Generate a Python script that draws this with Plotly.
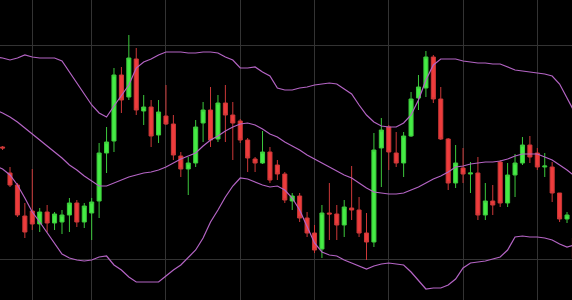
import plotly.graph_objects as go

# Candle data (index, open, high, low, close)
bars = list(range(78))
opens = [1.2153, 1.2127, 1.2115, 1.2084, 1.2089, 1.2076, 1.2088, 1.2077, 1.2078, 1.2085,
         1.2097, 1.2078, 1.2087, 1.2099, 1.2147, 1.2159, 1.2225, 1.2203, 1.2241, 1.2189,
         1.2193, 1.2165, 1.2184, 1.2176, 1.2144, 1.2131, 1.2137, 1.2177, 1.2190, 1.2161,
         1.2197, 1.2185, 1.2179, 1.2160, 1.2141, 1.2137, 1.2148, 1.2135, 1.2126, 1.2099,
         1.2104, 1.2082, 1.2067, 1.2051, 1.2087, 1.2086, 1.2075, 1.2092, 1.2090, 1.2067,
         1.2058, 1.2152, 1.2173, 1.2147, 1.2137, 1.2164, 1.2202, 1.2212, 1.2243, 1.2201,
         1.2161, 1.2117, 1.2132, 1.2126, 1.2127, 1.2085, 1.2099, 1.2138, 1.2097, 1.2125,
         1.2137, 1.2155, 1.2147, 1.2133, 1.2133, 1.2107, 1.2081, 1.2062]
highs = [1.2154, 1.2133, 1.2117, 1.2097, 1.2131, 1.2092, 1.2095, 1.2088, 1.2090, 1.2102,
         1.2100, 1.2097, 1.2102, 1.2157, 1.2173, 1.2232, 1.2233, 1.2265, 1.2252, 1.2205,
         1.2200, 1.2200, 1.2215, 1.2185, 1.2148, 1.2143, 1.2180, 1.2198, 1.2213, 1.2205,
         1.2215, 1.2198, 1.2181, 1.2162, 1.2143, 1.2169, 1.2153, 1.2140, 1.2128, 1.2107,
         1.2107, 1.2088, 1.2075, 1.2095, 1.2117, 1.2095, 1.2100, 1.2134, 1.2103, 1.2087,
         1.2167, 1.2182, 1.2175, 1.2168, 1.2168, 1.2208, 1.2225, 1.2249, 1.2245, 1.2213,
         1.2162, 1.2155, 1.2152, 1.2138, 1.2143, 1.2117, 1.2115, 1.2140, 1.2137, 1.2146,
         1.2163, 1.2164, 1.2152, 1.2147, 1.2138, 1.2107, 1.2088, 1.2065]
lows = [1.2150, 1.2113, 1.2083, 1.2062, 1.2070, 1.2068, 1.2068, 1.2070, 1.2066, 1.2068,
        1.2073, 1.2072, 1.2060, 1.2082, 1.2127, 1.2148, 1.2187, 1.2200, 1.2185, 1.2175,
        1.2153, 1.2157, 1.2175, 1.2140, 1.2123, 1.2105, 1.2133, 1.2158, 1.2153, 1.2158,
        1.2158, 1.2140, 1.2157, 1.2128, 1.2128, 1.2136, 1.2117, 1.2120, 1.2097, 1.2090,
        1.2078, 1.2063, 1.2047, 1.2042, 1.2060, 1.2060, 1.2063, 1.2080, 1.2063, 1.2040,
        1.2053, 1.2113, 1.2130, 1.2133, 1.2123, 1.2163, 1.2190, 1.2203, 1.2197, 1.2160,
        1.2110, 1.2112, 1.2117, 1.2107, 1.2080, 1.2080, 1.2085, 1.2093, 1.2093, 1.2103,
        1.2135, 1.2137, 1.2130, 1.2123, 1.2098, 1.2078, 1.2077, 1.2040]
closes = [1.2152, 1.2115, 1.2085, 1.2068, 1.2076, 1.2088, 1.2077, 1.2086, 1.2085, 1.2097,
          1.2078, 1.2094, 1.2098, 1.2147, 1.2158, 1.2225, 1.2200, 1.2242, 1.2190, 1.2193,
          1.2164, 1.2188, 1.2176, 1.2145, 1.2131, 1.2137, 1.2173, 1.2190, 1.2160, 1.2197,
          1.2185, 1.2177, 1.2160, 1.2142, 1.2137, 1.2148, 1.2120, 1.2126, 1.2100, 1.2104,
          1.2082, 1.2067, 1.2050, 1.2087, 1.2086, 1.2075, 1.2093, 1.2090, 1.2067, 1.2058,
          1.2150, 1.2170, 1.2148, 1.2137, 1.2164, 1.2201, 1.2213, 1.2243, 1.2201, 1.2161,
          1.2117, 1.2137, 1.2126, 1.2127, 1.2085, 1.2099, 1.2095, 1.2097, 1.2125, 1.2137,
          1.2155, 1.2143, 1.2133, 1.2134, 1.2107, 1.2081, 1.2085, 1.2042]

# Bollinger band values (index -1 .. 77)
band_x = list(range(-1, 78))
upper_band = [1.2243, 1.2242, 1.2240, 1.2242, 1.2245, 1.2243, 1.2242, 1.2242, 1.2242, 1.2239,
              1.2228, 1.2217, 1.2205, 1.2195, 1.2187, 1.2183, 1.2194, 1.2204, 1.2215, 1.2232,
              1.2238, 1.2241, 1.2245, 1.2248, 1.2248, 1.2248, 1.2247, 1.2247, 1.2248, 1.2248,
              1.2247, 1.2243, 1.2240, 1.2232, 1.2232, 1.2233, 1.2228, 1.2224, 1.2212, 1.2210,
              1.2210, 1.2212, 1.2213, 1.2215, 1.2216, 1.2217, 1.2216, 1.2211, 1.2206, 1.2195,
              1.2185, 1.2178, 1.2174, 1.2173, 1.2173, 1.2177, 1.2185, 1.2200, 1.2220, 1.2235,
              1.2241, 1.2241, 1.2241, 1.2239, 1.2238, 1.2237, 1.2237, 1.2236, 1.2236, 1.2233,
              1.2230, 1.2229, 1.2228, 1.2227, 1.2226, 1.2224, 1.2216, 1.2202, 1.2188]
middle_band = [1.2190, 1.2187, 1.2183, 1.2178, 1.2172, 1.2166, 1.2160, 1.2154, 1.2148, 1.2142,
               1.2135, 1.2130, 1.2124, 1.2119, 1.2114, 1.2114, 1.2117, 1.2120, 1.2123, 1.2125,
               1.2127, 1.2128, 1.2130, 1.2133, 1.2137, 1.2141, 1.2144, 1.2147, 1.2154, 1.2160,
               1.2164, 1.2169, 1.2173, 1.2176, 1.2177, 1.2175, 1.2171, 1.2166, 1.2163, 1.2158,
               1.2154, 1.2150, 1.2145, 1.2141, 1.2137, 1.2133, 1.2129, 1.2125, 1.2122, 1.2117,
               1.2112, 1.2108, 1.2107, 1.2106, 1.2106, 1.2107, 1.2110, 1.2113, 1.2117, 1.2121,
               1.2124, 1.2128, 1.2133, 1.2134, 1.2136, 1.2137, 1.2138, 1.2138, 1.2139, 1.2141,
               1.2144, 1.2146, 1.2146, 1.2146, 1.2143, 1.2140, 1.2135, 1.2130, 1.2124]
lower_band = [1.2134, 1.2131, 1.2125, 1.2115, 1.2102, 1.2088, 1.2078, 1.2067, 1.2056, 1.2046,
              1.2042, 1.2040, 1.2039, 1.2040, 1.2043, 1.2044, 1.2035, 1.2030, 1.2023, 1.2018,
              1.2018, 1.2018, 1.2018, 1.2024, 1.2030, 1.2035, 1.2042, 1.2050, 1.2062, 1.2078,
              1.2090, 1.2103, 1.2114, 1.2122, 1.2121, 1.2118, 1.2115, 1.2113, 1.2114, 1.2110,
              1.2102, 1.2090, 1.2074, 1.2057, 1.2048, 1.2045, 1.2044, 1.2040, 1.2037, 1.2034,
              1.2031, 1.2034, 1.2036, 1.2037, 1.2036, 1.2035, 1.2028, 1.2020, 1.2011, 1.2012,
              1.2012, 1.2015, 1.2021, 1.2032, 1.2037, 1.2038, 1.2039, 1.2041, 1.2043, 1.2050,
              1.2063, 1.2064, 1.2063, 1.2063, 1.2062, 1.2060, 1.2056, 1.2053, 1.2055]

grid_x = [4, 12, 22, 32, 42, 52, 62, 72]
grid_y = [1.2041, 1.2255]

band_color = "#b464c4"

fig = go.Figure()
for name, vals in [("Upper", upper_band), ("Middle", middle_band), ("Lower", lower_band)]:
    fig.add_trace(go.Scatter(x=band_x, y=vals, mode="lines", name=name,
                             line=dict(color=band_color, width=1.2), hoverinfo="skip"))

fig.add_trace(go.Candlestick(
    x=bars, open=opens, high=highs, low=lows, close=closes,
    increasing=dict(line=dict(color="#3cc83c", width=1), fillcolor="#45ec45"),
    decreasing=dict(line=dict(color="#cc3838", width=1), fillcolor="#ee3c3c"),
    whiskerwidth=0, name="Price",
))

fig.update_layout(
    width=572, height=300,
    margin=dict(l=0, r=0, t=0, b=0),
    paper_bgcolor="#000000", plot_bgcolor="#000000",
    showlegend=False,
    boxgap=0.22,
    xaxis=dict(range=[-0.3465, 76.67], tickvals=grid_x, showticklabels=False,
               showgrid=True, gridcolor="#333333", gridwidth=1, zeroline=False,
               rangeslider=dict(visible=False), showline=False, ticks=""),
    yaxis=dict(range=[1.2, 1.23], tickvals=grid_y, showticklabels=False,
               showgrid=True, gridcolor="#333333", gridwidth=1, zeroline=False,
               showline=False, ticks=""),
)

fig.write_html("out.html")
